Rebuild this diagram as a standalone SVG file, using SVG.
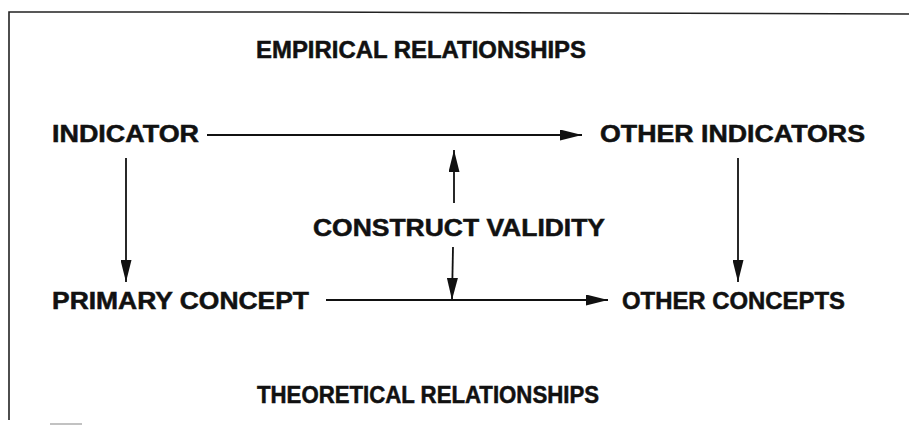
<svg xmlns="http://www.w3.org/2000/svg" width="909" height="426" viewBox="0 0 909 426">
  <style>
    .t { font-family: "Liberation Sans", Arial, Helvetica, sans-serif; font-weight: bold; font-size: 23px; fill: #111; stroke: #111; stroke-width: 0.5; }
    .c { stroke: #111; stroke-width: 1.8; fill: none; }
    .frame { stroke: #222; stroke-width: 1.6; fill: none; }
  </style>
  <defs>
    <marker id="ah" viewBox="0 0 24 12" refX="24" refY="6" markerWidth="24" markerHeight="11" markerUnits="userSpaceOnUse" orient="auto">
      <path d="M0,0 L24,6 L0,12 z" fill="#111"/>
    </marker>
  </defs>
  <rect width="909" height="426" fill="#fff"/>
  <g id="frame">
    <path class="frame" d="M9,420 L9,12 L300,12 L600,13 L909,14"/>
    <line x1="50" y1="424" x2="82" y2="424" stroke="#999" stroke-width="1.2"/>
  </g>
  <g id="empirical"><text class="t" x="256" y="58" textLength="330" lengthAdjust="spacingAndGlyphs">EMPIRICAL RELATIONSHIPS</text></g>
  <g id="indicator"><text class="t" x="52" y="142" textLength="147" lengthAdjust="spacingAndGlyphs">INDICATOR</text></g>
  <g id="other-indicators"><text class="t" x="600" y="142" textLength="265" lengthAdjust="spacingAndGlyphs">OTHER INDICATORS</text></g>
  <g id="construct-validity"><text class="t" x="313" y="236" textLength="292" lengthAdjust="spacingAndGlyphs">CONSTRUCT VALIDITY</text></g>
  <g id="primary-concept"><text class="t" x="52" y="309" textLength="257" lengthAdjust="spacingAndGlyphs">PRIMARY CONCEPT</text></g>
  <g id="other-concepts"><text class="t" x="622" y="309" textLength="223" lengthAdjust="spacingAndGlyphs">OTHER CONCEPTS</text></g>
  <g id="theoretical"><text class="t" x="257" y="403" textLength="342" lengthAdjust="spacingAndGlyphs">THEORETICAL RELATIONSHIPS</text></g>
  <g id="connectors">
    <line class="c" x1="207" y1="135" x2="582" y2="135" marker-end="url(#ah)"/>
    <line class="c" x1="326" y1="300" x2="608" y2="300" marker-end="url(#ah)"/>
    <line class="c" x1="126" y1="158" x2="126" y2="282" marker-end="url(#ah)"/>
    <line class="c" x1="738" y1="158" x2="738" y2="282" marker-end="url(#ah)"/>
    <line class="c" x1="454" y1="203" x2="454" y2="150" marker-end="url(#ah)"/>
    <line class="c" x1="453" y1="247" x2="452" y2="300" marker-end="url(#ah)"/>
  </g>
</svg>
